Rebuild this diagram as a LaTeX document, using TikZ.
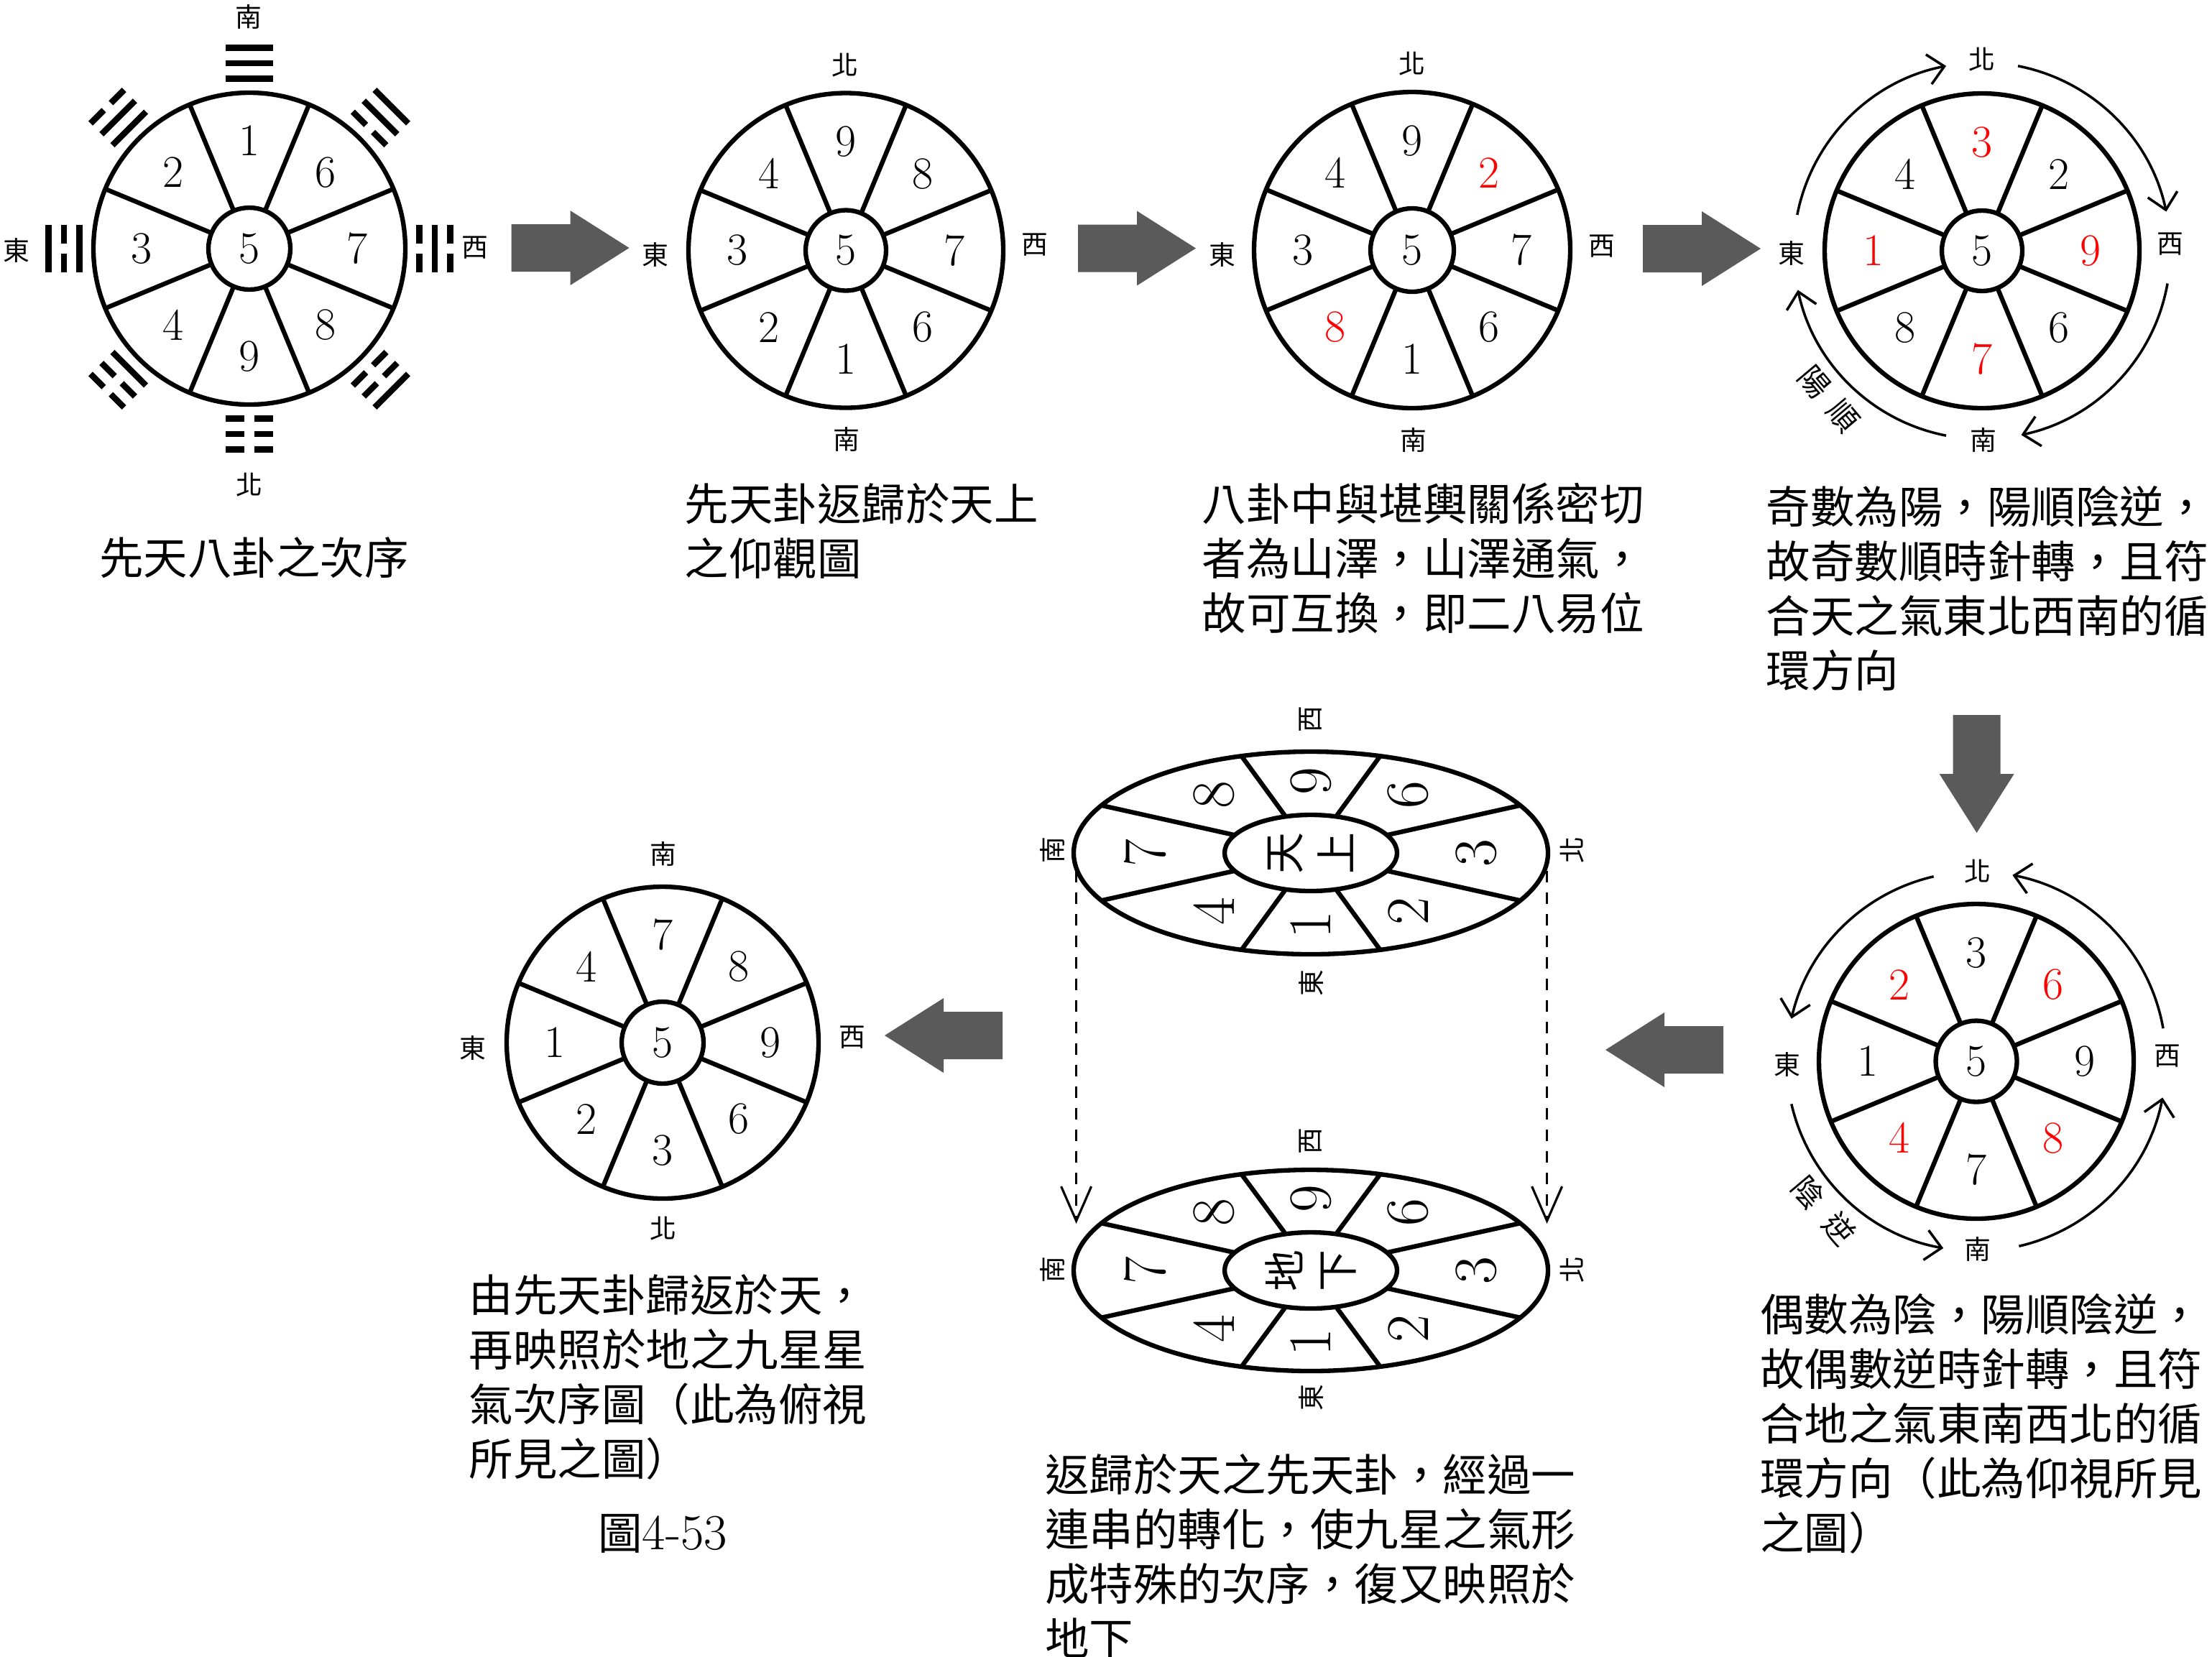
\documentclass[tikz,border=0pt]{standalone}
\usepackage{fontspec}
\newfontfamily\cjk{Noto Sans CJK TC}
\usetikzlibrary{arrows.meta}
\definecolor{arrowgray}{RGB}{90,90,90}
\tikzset{bigarrow/.pic={\fill[arrowgray] (0,-0.33) -- (0.82,-0.33) -- (0.82,-0.52) -- (1.64,0) -- (0.82,0.52) -- (0.82,0.33) -- (0,0.33) -- cycle;}}

\begin{document}
\begin{tikzpicture}[
 rim/.style={line width=1.8pt},
 bar/.style={line width=0.085cm},
 num/.style={inner sep=0pt, font=\fontsize{18}{18}\selectfont},
 bignum/.style={inner sep=0pt, rotate=90, font=\fontsize{24}{24}\selectfont},
 dir/.style={inner sep=0pt, font=\cjk\fontsize{10.5}{10.5}\selectfont},
 flow/.style={inner sep=0pt, rotate=-50, font=\cjk\fontsize{12}{12}\selectfont},
 hub/.style={inner sep=0pt, rotate=90, align=center, font=\cjk\fontsize{16.5}{20.8}\selectfont},
 note/.style={inner sep=0pt, anchor=north west, align=left, font=\cjk\fontsize{17.5}{21.6}\selectfont},
 turn/.style={line width=1pt, -{Straight Barb[length=2.2mm,width=4.2mm]}},
 drop/.style={line width=0.9pt, dash pattern=on 1.6mm off 1.4mm, -{Straight Barb[length=4.8mm,width=4.2mm]}}]
\useasboundingbox (0,0) rectangle (30.78,-23.05);

%first wheel with the eight trigrams
\begin{scope}[shift={(3.47,-3.46)}]
\draw[rim] (0,0) circle (2.17) (0,0) circle (0.57);
\foreach \a in {22.5,67.5,...,337.5} \draw[rim] (\a:0.57) -- (\a:2.17);
\foreach \a/\n in {90/1,45/6,0/7,-45/8,-90/9,-135/4,180/3,135/2} \node[num] (a\n) at (\a:1.5) {\n};
\node[num] (a5) at (0,0) {5};
\foreach \a/\p/\q/\r in {90/1/1/1,45/0/1/1,0/0/1/0,-45/0/0/1,-90/0/0/0,-135/1/0/0,180/1/0/1,135/1/1/0}
{\begin{scope}[shift={(\a:2.58)},rotate=\a-90]
 \foreach \yy/\s in {-0.215/\p,0/\q,0.215/\r}
 {\ifnum\s=1 \draw[bar] (-0.33,\yy) -- (0.33,\yy);
  \else \draw[bar] (-0.33,\yy) -- (-0.07,\yy) (0.07,\yy) -- (0.33,\yy); \fi}
 \end{scope}} %trigrams
\end{scope}
\node[dir] (a-s) at (3.46,-0.235) {南};
\node[dir] (a-n) at (3.47,-6.75) {北};
\node[dir] (a-e) at (0.23,-3.48) {東};
\node[dir] (a-w) at (6.61,-3.45) {西};
\node[inner sep=0pt, font=\cjk\fontsize{17.5}{21.6}\selectfont] (cap1) at (3.536,-7.766) {先天八卦之次序};

\pic at (7.115,-3.45) {bigarrow}; %first gray arrow

%second wheel
\begin{scope}[shift={(11.77,-3.485)}]
\draw[rim] (0,0) circle (2.19) (0,0) circle (0.56);
\foreach \a in {22.5,67.5,...,337.5} \draw[rim] (\a:0.56) -- (\a:2.19);
\foreach \a/\n in {90/9,45/8,0/7,-45/6,-90/1,-135/2,180/3,135/4} \node[num] (b\n) at (\a:1.51) {\n};
\node[num] (b5) at (0,0) {5};
\end{scope}
\node[dir] (b-n) at (11.76,-0.91) {北};
\node[dir] (b-s) at (11.78,-6.11) {南};
\node[dir] (b-e) at (9.12,-3.54) {東};
\node[dir] (b-w) at (14.40,-3.41) {西};
\node[note] (cap2) at (9.52,-6.72) {先天卦返歸於天上\\之仰觀圖};

\pic at (15.00,-3.455) {bigarrow}; %second gray arrow

%third wheel, two and eight swapped
\begin{scope}[shift={(19.65,-3.48)}]
\draw[rim] (0,0) circle (2.20) (0,0) circle (0.58);
\foreach \a in {22.5,67.5,...,337.5} \draw[rim] (\a:0.58) -- (\a:2.20);
\foreach \a/\n/\c in {90/9/black,45/2/red,0/7/black,-45/6/black,-90/1/black,-135/8/red,180/3/black,135/4/black} \node[num,text=\c] (c\n) at (\a:1.52) {\n};
\node[num] (c5) at (0,0) {5};
\end{scope}
\node[dir] (c-n) at (19.65,-0.89) {北};
\node[dir] (c-s) at (19.67,-6.12) {南};
\node[dir] (c-e) at (17.01,-3.54) {東};
\node[dir] (c-w) at (22.29,-3.43) {西};
\node[note] (cap3) at (16.72,-6.71) {八卦中與堪輿關係密切\\者為山澤，山澤通氣，\\故可互換，即二八易位};

\pic at (22.86,-3.46) {bigarrow}; %third gray arrow

%fourth wheel, odd numbers turn clockwise
\begin{scope}[shift={(27.58,-3.49)}]
\draw[rim] (0,0) circle (2.19) (0,0) circle (0.56);
\foreach \a in {22.5,67.5,...,337.5} \draw[rim] (\a:0.56) -- (\a:2.19);
\foreach \a/\n/\c in {90/3/red,45/2/black,0/9/red,-45/6/black,-90/7/red,-135/8/black,180/1/red,135/4/black} \node[num,text=\c] (d\n) at (\a:1.51) {\n};
\node[num] (d5) at (0,0) {5};
\draw[turn] (169:2.62) arc (169:101:2.62);
\draw[turn] (79:2.62) arc (79:12:2.62);
\draw[turn] (-10:2.62) arc (-10:-78:2.62);
\draw[turn] (-101:2.62) arc (-101:-168:2.62);
\node[flow] (yang) at (224:2.97) {陽\hspace{0.2cm}順};
\end{scope}
\node[dir] (d-n) at (27.58,-0.83) {北};
\node[dir] (d-s) at (27.60,-6.12) {南};
\node[dir] (d-e) at (24.93,-3.52) {東};
\node[dir] (d-w) at (30.20,-3.40) {西};
\node[note] (cap4) at (24.57,-6.76) {奇數為陽，陽順陰逆，\\故奇數順時針轉，且符\\合天之氣東北西南的循\\環方向};

\pic[rotate=-90] at (27.506,-9.95) {bigarrow}; %down gray arrow

%fifth wheel, even numbers turn counterclockwise
\begin{scope}[shift={(27.50,-14.77)}]
\draw[rim] (0,0) circle (2.19) (0,0) circle (0.565);
\foreach \a in {22.5,67.5,...,337.5} \draw[rim] (\a:0.565) -- (\a:2.19);
\foreach \a/\n/\c in {90/3/black,45/6/red,0/9/black,-45/8/red,-90/7/black,-135/4/red,180/1/black,135/2/red} \node[num,text=\c] (e\n) at (\a:1.51) {\n};
\node[num] (e5) at (0,0) {5};
\draw[turn] (103:2.64) arc (103:167:2.64);
\draw[turn] (193:2.64) arc (193:260:2.64);
\draw[turn] (283:2.64) arc (283:349:2.64);
\draw[turn] (10:2.64) arc (10:79:2.64);
\node[flow] (yin) at (224.4:2.97) {陰\hspace{0.25cm}逆};
\end{scope}
\node[dir] (e-n) at (27.515,-12.13) {北};
\node[dir] (e-s) at (27.515,-17.38) {南};
\node[dir] (e-e) at (24.87,-14.81) {東};
\node[dir] (e-w) at (30.16,-14.70) {西};
\node[note] (cap5) at (24.485,-18.0) {偶數為陰，陽順陰逆，\\故偶數逆時針轉，且符\\合地之氣東南西北的循\\環方向（此為仰視所見\\之圖）};

\pic[rotate=180] at (23.98,-14.61) {bigarrow}; %left gray arrow

%sky ellipse
\begin{scope}[shift={(18.24,-11.87)}]
\draw[rim] (0,0) ellipse (3.30 and 1.41) (0,0) ellipse (1.20 and 0.53);
\foreach \t in {28,73,107,152,208,253,287,332} \draw[rim] (\t:1.20 and 0.53) -- (\t:3.30 and 1.41);
\foreach \t/\n in {180/7,126/8,90/9,54/6,0/3,-54/2,-90/1,-126/4} \node[bignum] (f\n) at (\t:2.30 and 1.0) {\n};
\node[hub] (sky) at (0,0) {天\\上};
\end{scope}
\node[dir, rotate=90] (f-w) at (18.24,-10.015) {西};
\node[dir, rotate=90] (f-e) at (18.24,-13.68) {東};
\node[dir, rotate=90] (f-s) at (14.64,-11.83) {南};
\node[dir, rotate=90] (f-n) at (21.88,-11.83) {北};

%earth ellipse
\begin{scope}[shift={(18.24,-17.68)}]
\draw[rim] (0,0) ellipse (3.30 and 1.40) (0,0) ellipse (1.20 and 0.53);
\foreach \t in {28,73,107,152,208,253,287,332} \draw[rim] (\t:1.20 and 0.53) -- (\t:3.30 and 1.40);
\foreach \t/\n in {180/7,126/8,90/9,54/6,0/3,-54/2,-90/1,-126/4} \node[bignum] (g\n) at (\t:2.30 and 1.0) {\n};
\node[hub] (earth) at (0,0) {地\\下};
\end{scope}
\node[dir, rotate=90] (g-w) at (18.24,-15.88) {西};
\node[dir, rotate=90] (g-e) at (18.24,-19.45) {東};
\node[dir, rotate=90] (g-s) at (14.64,-17.67) {南};
\node[dir, rotate=90] (g-n) at (21.88,-17.67) {北};

\coordinate (ls) at (14.976,-12.12); \coordinate (le) at (14.976,-17.03);
\coordinate (rs) at (21.526,-12.12); \coordinate (re) at (21.526,-17.03);
\draw[drop] (ls) -- (le); %left dashed drop
\draw[drop] (rs) -- (re); %right dashed drop
\node[note] (cap7) at (14.535,-20.23) {返歸於天之先天卦，經過一\\連串的轉化，使九星之氣形\\成特殊的次序，復又映照於\\地下};

\pic[rotate=180] at (13.95,-14.41) {bigarrow}; %last gray arrow

%last wheel, seen from above
\begin{scope}[shift={(9.22,-14.51)}]
\draw[rim] (0,0) circle (2.17) (0,0) circle (0.57);
\foreach \a in {22.5,67.5,...,337.5} \draw[rim] (\a:0.57) -- (\a:2.17);
\foreach \a/\n in {90/7,45/8,0/9,-45/6,-90/3,-135/2,180/1,135/4} \node[num] (h\n) at (\a:1.5) {\n};
\node[num] (h5) at (0,0) {5};
\end{scope}
\node[dir] (h-s) at (9.23,-11.88) {南};
\node[dir] (h-n) at (9.23,-17.10) {北};
\node[dir] (h-e) at (6.575,-14.58) {東};
\node[dir] (h-w) at (11.86,-14.44) {西};
\node[note] (cap6) at (6.52,-17.73) {由先天卦歸返於天，\\再映照於地之九星星\\氣次序圖（此為俯視\\所見之圖）};
\node[inner sep=0pt] (fig) at (9.22,-21.34) {{\cjk\fontsize{17.5}{20}\selectfont 圖}{\fontsize{20}{20}\selectfont 4-53}};
\end{tikzpicture}
\end{document}
